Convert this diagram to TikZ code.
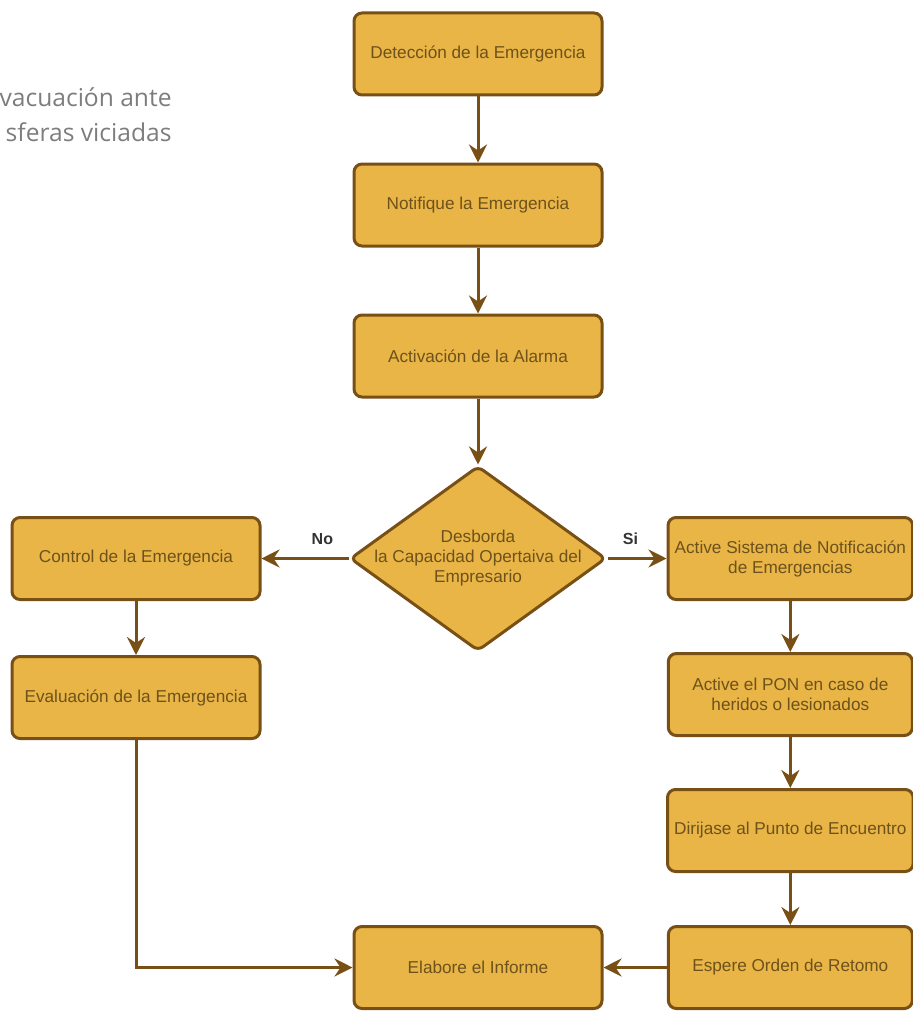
\documentclass[tikz,border=0pt]{standalone}
\usepackage{fontspec}
\setmainfont{Liberation Sans}
\newfontfamily\titlefont{Open Sans}
\usetikzlibrary{shapes.geometric,arrows.meta,positioning}
\definecolor{gold}{RGB}{232,181,70}
\definecolor{frame}{RGB}{120,80,22}
\definecolor{ink}{RGB}{110,82,28}
\definecolor{titlegray}{RGB}{125,125,128}

\begin{document}
\begin{tikzpicture}[
    x=0.5pt, y=-0.5pt,
    box/.style={rectangle, draw=frame, fill=gold, rounded corners=4pt, line width=1.5pt,
        minimum width=124pt, minimum height=41pt, align=center, text=ink,
        font=\fontsize{8.6}{10}\selectfont},
    decision/.style={diamond, draw=frame, fill=gold, rounded corners=3pt, line width=1.5pt,
        minimum width=128pt, minimum height=92.5pt, inner sep=0pt},
    arrow/.style={-{Stealth[length=9pt,width=9pt,inset=3pt]}, draw=frame, line width=1.5pt},
    tag/.style={font=\bfseries\fontsize{8}{9}\selectfont, text=black!80},
]
\useasboundingbox (0,0) rectangle (913,1011);

% Title (cut at the left)
\node[anchor=east, align=right, inner sep=0pt, text=titlegray,
      font=\titlefont\fontsize{12.3}{17.5}\selectfont] (title) at (172,115)
      {vacuación ante\\sferas viciadas};

% Main column
\node[box] (detect) at (478,54) {Detección de la Emergencia};
\node[box, below=33pt of detect] (notify) {Notifique la Emergencia};
\node[box, below=33pt of notify] (alarm) {Activación de la Alarma};
\node[decision, below=33pt of alarm,
      label={[align=center, text=ink, font=\fontsize{8.6}{10}\selectfont]center:Desborda\\la Capacidad Opertaiva del\\Empresario}] (overflow) {};

% No branch
\node[box, left=43.5pt of overflow] (control) {Control de la Emergencia};
\node[box, below=27pt of control] (evaluate) {Evaluación de la Emergencia};

% Si branch
\node[box, right=30.5pt of overflow, xshift=-1pt, minimum width=122pt] (notifsys) {Active Sistema de Notificación\\de Emergencias};
\node[box, below=25.5pt of notifsys, minimum width=122pt] (pon) {Active el PON en caso de\\heridos o lesionados};
\node[box, below=25.5pt of pon, minimum width=122pt] (meeting) {Dirijase al Punto de Encuentro};
\node[box, below=26pt of meeting, minimum width=122pt] (wait) {Espere Orden de Retomo};

% Report
\node[box] (report) at (overflow |- wait) {Elabore el Informe};

% Arrows
\draw[arrow] (detect) -- (notify);
\draw[arrow] (notify) -- (alarm);
\draw[arrow] (alarm) -- (overflow);
\draw[arrow] (overflow) -- node[tag, pos=0.3, above=3pt] {No} (control);
\draw[arrow] (overflow) -- node[tag, pos=0.39, above=3pt] {Si} (notifsys);
\draw[arrow] (control) -- (evaluate);
\draw[arrow] (notifsys) -- (pon);
\draw[arrow] (pon) -- (meeting);
\draw[arrow] (meeting) -- (wait);
\draw[arrow] (evaluate) |- (report);
\draw[arrow] (wait) -- (report);

\end{tikzpicture}
\end{document}
